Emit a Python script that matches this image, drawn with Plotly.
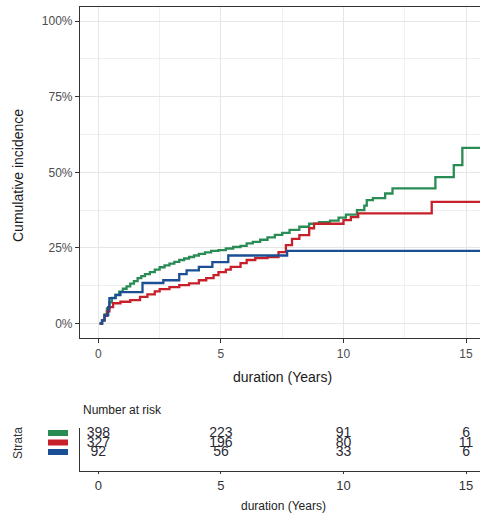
import plotly.graph_objects as go

# ---------------- data ----------------
strata = ["Green", "Red", "Blue"]
colors = ["#2A8C55", "#C8202A", "#1A4F96"]

green_t = [0.05, 0.15, 0.25, 0.35, 0.45, 0.55, 0.7, 0.85, 1.0, 1.15, 1.3, 1.45, 1.6, 1.75, 1.9,
           2.1, 2.3, 2.5, 2.7, 2.9, 3.1, 3.3, 3.5, 3.7, 3.9, 4.1, 4.35, 4.6, 4.9, 5.2, 5.5,
           5.8, 6.05, 6.3, 6.6, 6.9, 7.2, 7.5, 7.8, 8.2, 8.6, 9.0, 9.45, 9.8, 10.1, 10.55,
           10.85, 10.95, 11.2, 11.7, 12.0, 13.75, 14.5, 14.85, 15.6]
green_v = [0, 1, 3, 5, 7, 8.5, 9.5, 10.5, 11.5, 12.3, 13.2, 14, 15, 15.7, 16.3,
           17, 17.8, 18.6, 19.2, 19.8, 20.4, 21, 21.5, 22, 22.5, 23, 23.5, 24, 24.3, 24.8, 25.3,
           25.7, 26.5, 27, 27.7, 28.5, 29.3, 30, 31, 32, 33, 33.5, 34, 35, 36, 37.5,
           39, 40.8, 41.5, 43, 44.7, 48.4, 52.4, 58.1, 58.1]

red_t = [0.05, 0.15, 0.25, 0.35, 0.45, 0.6, 0.9, 1.3, 1.7, 2.0, 2.3, 2.5, 2.9, 3.3, 3.7, 4.1,
         4.4, 4.7, 4.9, 5.2, 5.4, 5.8, 6.05, 6.4, 6.9, 7.35, 7.65, 7.9, 8.2, 8.6, 8.8, 10.0,
         10.3, 10.6, 10.75, 13.6, 15.6]
red_v = [0, 1, 2.5, 4, 5.4, 6.7, 7.2, 7.7, 8.8, 9.6, 10.6, 11.4, 12, 12.7, 13.3, 14.3,
         15, 16, 17, 17.8, 18.7, 20, 21, 21.6, 22, 23.6, 25.9, 28, 29.2, 31.5, 33, 34.2,
         35.2, 36.4, 36.4, 40.2, 40.2]

blue_t = [0.05, 0.15, 0.25, 0.4, 0.45, 0.7, 0.9, 1.8, 2.65, 3.3, 3.6, 4.1, 4.65, 5.3, 7.7, 15.6]
blue_v = [0, 1, 2.7, 5.4, 8.4, 9.4, 10.4, 13.4, 14.3, 16.3, 17.6, 18.7, 20.3, 22.5, 24, 24]

risk_times = [0, 5, 10, 15]
risk_green = [398, 223, 91, 6]
risk_red = [327, 196, 80, 11]
risk_blue = [92, 56, 33, 6]

y_ticks = [0, 25, 50, 75, 100]
y_labels = ["0%", "25%", "50%", "75%", "100%"]
x_ticks = [0, 5, 10, 15]
x_labels = ["0", "5", "10", "15"]

# ---------------- figure ----------------
W, H = 480, 523
FONT = "Liberation Sans, Arial, sans-serif"
NARROW = "Liberation Sans Narrow, Arial Narrow, Liberation Sans, Arial, sans-serif"

def py(px):  # pixel y (top) -> paper fraction
    return 1 - px / H

def px_(p):
    return p / W

fig = go.Figure()

curves = [(green_t, green_v), (red_t, red_v), (blue_t, blue_v)]
for (t, v), c, name in zip(curves, colors, strata):
    fig.add_trace(go.Scatter(x=t, y=v, mode="lines", line=dict(color=c, width=2.3, shape="hv"),
                             name=name, showlegend=False, xaxis="x", yaxis="y"))

risks = [risk_green, risk_red, risk_blue]
for i, (r, c) in enumerate(zip(risks, colors)):
    fig.add_trace(go.Scatter(x=risk_times, y=[3.75 - 0.95 * i] * len(risk_times), mode="text",
                             text=[str(n) for n in r], textposition="middle center",
                             textfont=dict(family=NARROW, size=14, color="#2a2a35"),
                             showlegend=False, xaxis="x2", yaxis="y2", cliponaxis=False,
                             hoverinfo="skip"))

grid = "#E6E6E6"
xr = [-0.75, 15.57]
fig.update_layout(
    width=W, height=H, margin=dict(l=0, r=0, t=0, b=0, autoexpand=False),
    paper_bgcolor="white", plot_bgcolor="white",
    font=dict(family=FONT, size=12, color="#4D4D4D"),
    xaxis=dict(domain=[px_(80), 1], range=xr, anchor="y", automargin=False,
               tickvals=x_ticks, ticktext=x_labels, showgrid=True, gridcolor=grid, gridwidth=1,
               minor=dict(tickvals=[2.5, 7.5, 12.5], showgrid=True, gridcolor="#F0F0F0", ticks=""),
               zeroline=False, showline=True, linecolor="#333333", linewidth=1.2, mirror=True,
               ticks="outside", ticklen=4, tickcolor="#333333",
               tickfont=dict(size=12, color="#4D4D4D")),
    yaxis=dict(domain=[py(338), py(7)], range=[-4.8, 104.7], anchor="x", automargin=False,
               tickvals=y_ticks, ticktext=y_labels, showgrid=True, gridcolor=grid, gridwidth=1,
               minor=dict(tickvals=[12.5, 37.5, 62.5, 87.5], showgrid=True, gridcolor="#F0F0F0", ticks=""),
               zeroline=False, showline=True, linecolor="#333333", linewidth=1.2,
               ticks="outside", ticklen=4, tickcolor="#333333",
               tickfont=dict(size=12, color="#4D4D4D")),
    xaxis2=dict(domain=[px_(80), 1], range=xr, anchor="y2", automargin=False,
                tickvals=x_ticks, ticktext=x_labels, showgrid=False, zeroline=False,
                showline=True, linecolor="#333333", linewidth=1.2,
                ticks="outside", ticklen=2, tickcolor="#333333",
                tickfont=dict(family=NARROW, size=13, color="#333333")),
    yaxis2=dict(domain=[py(471), py(428)], range=[0, 4.3], anchor="x2", automargin=False,
                showticklabels=False, showgrid=False, zeroline=False,
                showline=True, linecolor="#333333", linewidth=1.2, ticks=""),
)

annotations = [
    dict(text="Cumulative incidence", x=px_(18), y=py(176), textangle=-90,
         font=dict(size=14, color="#1a1a1a")),
    dict(text="duration (Years)", x=px_(282), y=py(377),
         font=dict(size=14, color="#1a1a1a")),
    dict(text="Number at risk", x=px_(81), y=py(410), xanchor="left",
         font=dict(size=12, color="#222222")),
    dict(text="Strata", x=px_(18), y=py(443), textangle=-90,
         font=dict(size=12, color="#333333")),
    dict(text="duration (Years)", x=px_(283), y=py(506),
         font=dict(size=12, color="#222222")),
]
for a in annotations:
    a.update(xref="paper", yref="paper", showarrow=False, yanchor="middle")
    a.setdefault("xanchor", "center")
fig.update_layout(annotations=annotations)

shapes = []
for i, c in enumerate(colors):
    yc = 433 + 9.5 * i
    shapes.append(dict(type="rect", xref="paper", yref="paper", x0=px_(48), x1=px_(68),
                       y0=py(yc + 3), y1=py(yc - 3), fillcolor=c, line=dict(width=0)))
fig.update_layout(shapes=shapes)

fig.write_html("out.html", config={"displayModeBar": False},
               post_script="document.body.style.margin='0';document.body.style.overflow='hidden';")
